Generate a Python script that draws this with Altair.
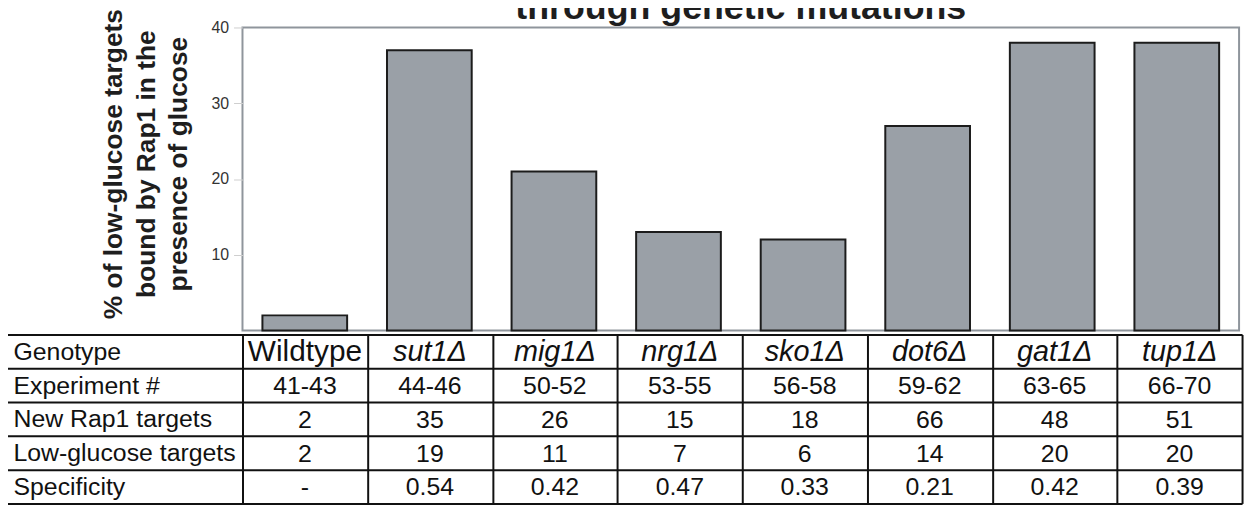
import altair as alt
import pandas as pd

genotypes = ["Wildtype", "sut1Δ", "mig1Δ", "nrg1Δ", "sko1Δ", "dot6Δ", "gat1Δ", "tup1Δ"]
percent_bound = [2, 37, 21, 13, 12, 27, 38, 38]

row_names = ["Genotype", "Experiment #", "New Rap1 targets", "Low-glucose targets", "Specificity"]
experiments = ["41-43", "44-46", "50-52", "53-55", "56-58", "59-62", "63-65", "66-70"]
new_targets = ["2", "35", "26", "15", "18", "66", "48", "51"]
low_glucose = ["2", "19", "11", "7", "6", "14", "20", "20"]
specificity = ["-", "0.54", "0.42", "0.47", "0.33", "0.21", "0.42", "0.39"]

title_text = "through genetic mutations"
y_title = ["% of low-glucose targets", "bound by Rap1 in the", "presence of glucose"]

FONT = "Liberation Sans"

bars_df = pd.DataFrame({"genotype": genotypes, "pct": percent_bound})

cells = []
for r, vals in zip(row_names, [genotypes, experiments, new_targets, low_glucose, specificity]):
    for g, v in zip(genotypes, vals):
        cells.append({"row": r, "genotype": g, "text": v})
cells_df = pd.DataFrame(cells)

x_top = alt.X("genotype:N", sort=genotypes, axis=None,
              scale=alt.Scale(domain=genotypes, paddingInner=0.32, paddingOuter=0.16))

bars = alt.Chart(bars_df).mark_bar(
    color="#9aa0a7", stroke="#1c1c1c", strokeWidth=2
).encode(
    x=x_top,
    y=alt.Y("pct:Q", scale=alt.Scale(domain=[0, 40], nice=False),
            axis=alt.Axis(values=[10, 20, 30, 40], title=y_title,
                          titleFont=FONT, titleFontSize=26.5, titleFontWeight="bold",
                          titleColor="#1e1e1e", titleLineHeight=33,
                          titleX=-130, titleY=137, titleBaseline="middle", titleAlign="center",
                          titleAngle=270,
                          labelFont=FONT, labelFontSize=16, labelColor="#333333",
                          labelPadding=5, tickSize=9, tickColor="#cfcfcf", tickWidth=1,
                          domain=False, grid=False)),
).properties(
    width=1003, height=305,
    view=alt.ViewBackground(stroke="#8f959c", strokeWidth=2),
    title=alt.TitleParams(title_text, font=FONT, fontSize=36, fontWeight="bold",
                          color="#1e1e1e", anchor="middle", frame="group",
                          baseline="alphabetic", offset=13, dy=60),
)

x_tab = alt.X("genotype:N", sort=genotypes,
              scale=alt.Scale(domain=genotypes, paddingInner=0, paddingOuter=0),
              axis=alt.Axis(orient="bottom", grid=True, gridColor="#111111", gridWidth=2,
                            tickBand="extent", labels=False, ticks=False, domain=False,
                            title=None, minExtent=0, maxExtent=0))
y_tab = alt.Y("row:N", sort=row_names,
              scale=alt.Scale(domain=row_names, paddingInner=0, paddingOuter=0),
              axis=alt.Axis(title=None, labelFont=FONT, labelFontSize=25, labelColor="#111111",
                            labelAlign="left", labelPadding=-6, labelLimit=0,
                            labelBaseline="middle",
                            tickSize=237, tickColor="#111111", tickWidth=2, tickBand="extent",
                            grid=True, gridColor="#111111", gridWidth=2, domain=False))

base = alt.Chart(cells_df).encode(x=x_tab, y=y_tab, text="text:N")

body = base.transform_filter(alt.datum.row != "Genotype").mark_text(
    font=FONT, fontSize=25, color="#111111", baseline="middle", dy=1)
head_mut = base.transform_filter(
    (alt.datum.row == "Genotype") & (alt.datum.genotype != "Wildtype")
).mark_text(font=FONT, fontSize=29, fontStyle="italic", color="#111111", baseline="middle", dy=1)
head_wt = base.transform_filter(
    (alt.datum.row == "Genotype") & (alt.datum.genotype == "Wildtype")
).mark_text(font=FONT, fontSize=30, color="#111111", baseline="middle", dy=1)

left_border = alt.Chart(cells_df).mark_rule(color="#111111", strokeWidth=2).encode(
    x=alt.value(-237), y=alt.value(0), y2=alt.value(170))

table = alt.layer(body, head_mut, head_wt, left_border).properties(width=1006, height=170)

chart = alt.vconcat(bars, table, spacing=-10).configure_view(stroke=None).properties(
    autosize=alt.AutoSizeParams(type="none"),
    padding={"left": 236, "top": 18, "right": 1014, "bottom": 482},
)

chart.save("out.html", embed_options={"renderer": "svg", "actions": False})
